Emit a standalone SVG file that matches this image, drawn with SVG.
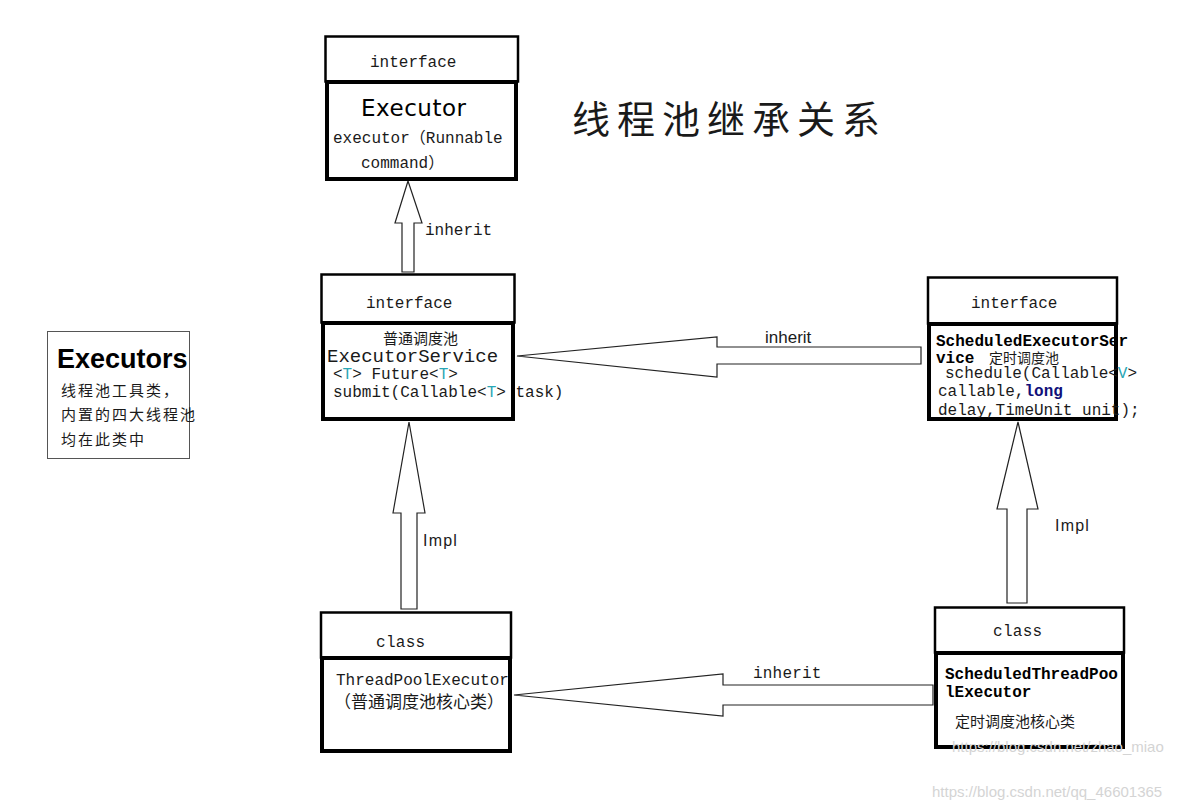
<svg xmlns="http://www.w3.org/2000/svg" width="1185" height="809" viewBox="0 0 1185 809">
<style>
.hdr{fill:#fff;stroke:#000;stroke-width:2.5}
.body{fill:#fff;stroke:#000;stroke-width:4}
.arr{fill:#fff;stroke:#222;stroke-width:1.2;stroke-linejoin:miter}
.mono{font-family:"Liberation Mono","DejaVu Sans Mono",monospace;font-size:16px;fill:#1a1a1a}
.bold{font-weight:bold;fill:#000}
.cjk{font-family:"Noto Sans CJK SC","Noto Sans",sans-serif;fill:#1a1a1a}
.sans{font-family:"Liberation Sans","Noto Sans",sans-serif;fill:#1a1a1a}
.teal{fill:#2aa6b5}
.navy{fill:#10107a;font-weight:bold}
.wm{font-family:"Liberation Sans",sans-serif;font-size:15px;fill:#d4d4d4}
</style>

<g id="title">
<text x="572" y="133" class="cjk" font-size="38" letter-spacing="7" fill="#000">线程池继承关系</text>
</g>

<g id="executors">
<rect x="47.5" y="331.5" width="142" height="127" fill="#fff" stroke="#555" stroke-width="1"/>
<text x="57" y="368" class="sans" font-size="27" font-weight="bold" style="fill:#000">Executors</text>
<text x="61" y="396" class="cjk" font-size="15" letter-spacing="2">线程池工具类，</text>
<text x="61" y="420" class="cjk" font-size="15" letter-spacing="2">内置的四大线程池</text>
<text x="61" y="445" class="cjk" font-size="15" letter-spacing="2">均在此类中</text>
</g>

<g id="connectors">
<polygon class="arr" points="408,181 395,223 402,223 402,272 414,272 414,223 422,223"/>
<polygon class="arr" points="517,356 717,337 717,347 921,347 921,364 717,364 717,377"/>
<polygon class="arr" points="409,422 393,513 401,513 401,609 417,609 417,513 425,513"/>
<polygon class="arr" points="1018,422 997,509 1007,509 1007,603 1027,603 1027,509 1038,509"/>
<polygon class="arr" points="514,695 723,674 723,685 933,685 933,705 723,705 723,716"/>
<text x="425" y="235" class="mono">inherit</text>
<text x="765" y="343" class="sans" font-size="17">inherit</text>
<text x="753" y="678" class="mono" letter-spacing="0.2">inherit</text>
<text x="423" y="546" class="sans" font-size="16" letter-spacing="1.2">Impl</text>
<text x="1055" y="531" class="sans" font-size="16" letter-spacing="1.2">Impl</text>
</g>

<g id="executor">
<rect class="hdr" x="325.5" y="36.5" width="192.5" height="45"/>
<rect class="body" x="327" y="82" width="189" height="97"/>
<text x="370" y="67" class="mono">interface</text>
<text x="361" y="116" font-family="DejaVu Sans,sans-serif" font-size="23" fill="#000" textLength="105">Executor</text>
<text x="333" y="143" class="mono">executor<tspan class="cjk" font-size="16">（</tspan>Runnable</text>
<text x="361" y="168" class="mono">command<tspan class="cjk" font-size="16">）</tspan></text>
</g>

<g id="executorService">
<rect class="hdr" x="321.5" y="274.5" width="193" height="48"/>
<rect class="body" x="323" y="323" width="190" height="96"/>
<text x="366" y="308" class="mono">interface</text>
<text x="383" y="344" class="cjk" font-size="15">普通调度池</text>
<text x="327" y="362" class="mono" style="font-size:19px">ExecutorService</text>
<text x="333" y="379" class="mono">&lt;<tspan class="teal">T</tspan>&gt; Future&lt;<tspan class="teal">T</tspan>&gt;</text>
<text x="333" y="397" class="mono">submit(Callable&lt;<tspan class="teal">T</tspan>&gt; task)</text>
</g>

<g id="scheduledExecutorService">
<rect class="hdr" x="928" y="277.5" width="189" height="46"/>
<rect class="body" x="929" y="324" width="187" height="95"/>
<text x="971" y="308" class="mono">interface</text>
<text x="936" y="346" class="mono bold">ScheduledExecutorSer</text>
<text x="936" y="363" class="mono bold">vice</text>
<text x="989" y="363" class="cjk" font-size="14">定时调度池</text>
<text x="945" y="378" class="mono">schedule(Callable&lt;<tspan class="teal">V</tspan>&gt;</text>
<text x="938" y="396" class="mono">callable,<tspan class="navy">long</tspan></text>
<text x="938" y="415" class="mono">delay,TimeUnit unit);</text>
</g>

<g id="threadPoolExecutor">
<rect class="hdr" x="321" y="612.5" width="190" height="45"/>
<rect class="body" x="322" y="658" width="188" height="93"/>
<text x="376" y="647" class="mono" letter-spacing="0.3">class</text>
<text x="336" y="685" class="mono">ThreadPoolExecutor</text>
<text x="334" y="708" class="cjk" font-size="17">（普通调度池核心类）</text>
</g>

<g id="scheduledThreadPoolExecutor">
<rect class="hdr" x="935" y="607.5" width="189" height="45"/>
<rect class="body" x="936" y="653" width="187" height="94"/>
<text x="993" y="636" class="mono" letter-spacing="0.3">class</text>
<text x="945" y="679" class="mono bold">ScheduledThreadPoo</text>
<text x="945" y="697" class="mono bold">lExecutor</text>
<text x="955" y="727" class="cjk" font-size="15">定时调度池核心类</text>
</g>

<g id="watermarks">
<text x="952" y="752" class="wm">https://blog.csdn.net/zhao_miao</text>
<text x="932" y="797" class="wm">https://blog.csdn.net/qq_46601365</text>
</g>
</svg>
